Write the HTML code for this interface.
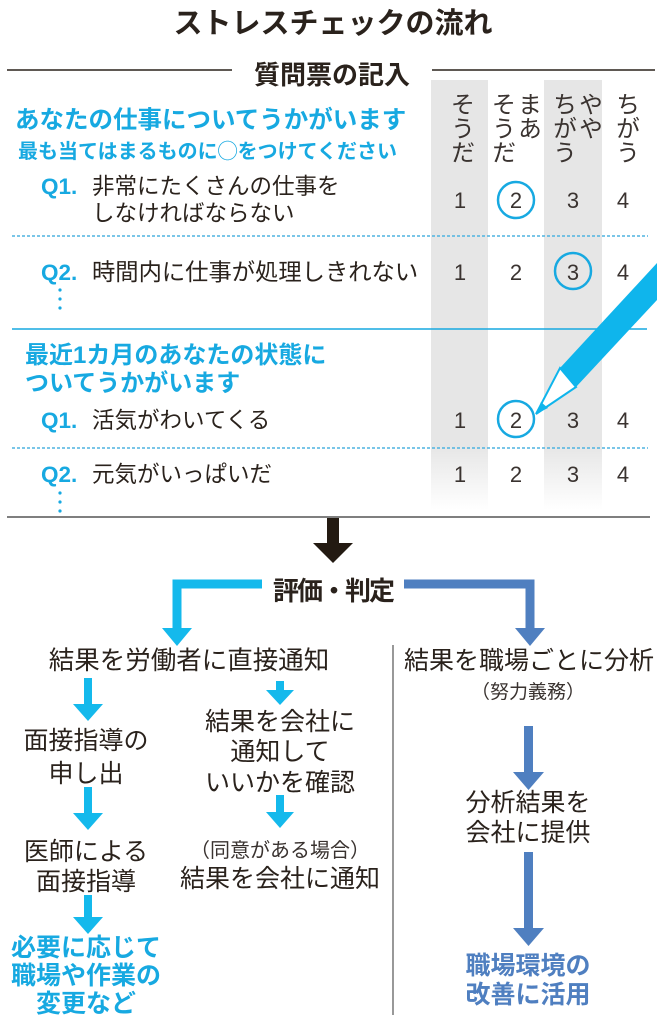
<!DOCTYPE html>
<html><head><meta charset="utf-8"><style>
html,body{margin:0;padding:0;background:#fff;}
svg{display:block;font-family:"Liberation Sans","Noto Sans CJK JP",sans-serif;}
.k{fill:#2a221c}
.c{fill:#17a9e1}
.b{fill:#4f7fc0}
</style></head><body>
<svg width="665" height="1024" viewBox="0 0 665 1024">
<defs>
<linearGradient id="g" x1="0" y1="0" x2="0" y2="1">
<stop offset="0.85" stop-color="#e6e6e6"/><stop offset="1" stop-color="#e6e6e6" stop-opacity="0"/>
</linearGradient>
</defs>
<text x="333" y="33" text-anchor="middle" font-size="29" font-weight="bold" class="k">ストレスチェックの流れ</text>
<line x1="7" y1="70" x2="232" y2="70" stroke="#2a221c" stroke-width="1.5"/>
<line x1="432" y1="70" x2="655" y2="70" stroke="#2a221c" stroke-width="1.5"/>
<text x="332" y="84" text-anchor="middle" font-size="26" font-weight="bold" class="k">質問票の記入</text>
<rect x="431" y="80" width="57" height="430" fill="url(#g)"/>
<rect x="544" y="80" width="58" height="430" fill="url(#g)"/>
<g font-size="24" fill="#3a3330">
<text x="460" y="92" style="writing-mode:vertical-rl">そうだ</text>
<text x="527" y="92" style="writing-mode:vertical-rl">まあ</text>
<text x="501" y="92" style="writing-mode:vertical-rl">そうだ</text>
<text x="588" y="92" style="writing-mode:vertical-rl">やや</text>
<text x="562" y="92" style="writing-mode:vertical-rl">ちがう</text>
<text x="625" y="92" style="writing-mode:vertical-rl">ちがう</text>
</g>
<text x="15" y="128" font-size="24.5" font-weight="bold" class="c">あなたの仕事についてうかがいます</text>
<text x="18" y="158" font-size="20" font-weight="bold" class="c">最も当てはまるものに◯をつけてください</text>
<g font-size="22.5">
<text x="41" y="194" font-weight="bold" class="c">Q1.</text>
<text x="92" y="194" class="k">非常にたくさんの仕事を</text>
<text x="92" y="221" class="k">しなければならない</text>
<text x="41" y="280" font-weight="bold" class="c">Q2.</text>
<text x="92" y="280" font-size="23.3" class="k">時間内に仕事が処理しきれない</text>
<text x="41" y="428" font-weight="bold" class="c">Q1.</text>
<text x="92" y="428" class="k">活気がわいてくる</text>
<text x="41" y="482" font-weight="bold" class="c">Q2.</text>
<text x="92" y="482" class="k">元気がいっぱいだ</text>
</g>
<g fill="#17a9e1"><circle cx="60" cy="290" r="1.6"/><circle cx="60" cy="299" r="1.6"/><circle cx="60" cy="308" r="1.6"/>
<circle cx="60" cy="493" r="1.6"/><circle cx="60" cy="502" r="1.6"/><circle cx="60" cy="511" r="1.6"/></g>
<line x1="12" y1="236" x2="648" y2="236" stroke="#4fb3e0" stroke-width="1.5" stroke-dasharray="3,2"/>
<line x1="12" y1="448" x2="648" y2="448" stroke="#4fb3e0" stroke-width="1.5" stroke-dasharray="3,2"/>
<line x1="12" y1="329" x2="647" y2="329" stroke="#17a9e1" stroke-width="1.5"/>
<text x="25" y="363" font-size="24" font-weight="bold" class="c">最近1カ月のあなたの状態に</text>
<text x="25" y="391" font-size="24" font-weight="bold" class="c">ついてうかがいます</text>
<g font-size="22" fill="#3a3330" text-anchor="middle">
<text x="460" y="208">1</text><text x="516" y="208">2</text><text x="573" y="208">3</text><text x="623" y="208">4</text>
<text x="460" y="280">1</text><text x="516" y="280">2</text><text x="573" y="280">3</text><text x="623" y="280">4</text>
<text x="460" y="428">1</text><text x="516" y="428">2</text><text x="573" y="428">3</text><text x="623" y="428">4</text>
<text x="460" y="482">1</text><text x="516" y="482">2</text><text x="573" y="482">3</text><text x="623" y="482">4</text>
</g>
<g fill="none" stroke="#17a9e1" stroke-width="2.5">
<circle cx="516" cy="200" r="18"/><circle cx="573" cy="271" r="18"/><circle cx="516" cy="419" r="18"/>
</g>
<polygon points="657,263 657,300 576,387 560,368" fill="#0fb5ec"/>
<polygon points="560,368 576,387 536,414" fill="#fff" stroke="#0fb5ec" stroke-width="2"/>
<polygon points="536,414 541,402 548,408" fill="#0fb5ec"/>
<line x1="7" y1="517" x2="650" y2="517" stroke="#555" stroke-width="1.5"/>
<polygon points="327,518 339,518 339,543 353,543 333,563 313,543 327,543" fill="#231a12"/>
<text x="333" y="600" text-anchor="middle" font-size="26" font-weight="bold" letter-spacing="-2" class="k">評価・判定</text>
<polyline points="262,584 177,584 177,632" fill="none" stroke="#14b9ec" stroke-width="9"/>
<polygon points="162,628 192,628 177,646" fill="#14b9ec"/>
<polyline points="404,584 530,584 530,632" fill="none" stroke="#4f7fc0" stroke-width="9"/>
<polygon points="515,628 545,628 530,646" fill="#4f7fc0"/>
<line x1="393" y1="645" x2="393" y2="1015" stroke="#555" stroke-width="1.2"/>
<text x="189" y="669" text-anchor="middle" font-size="25.5" class="k">結果を労働者に直接通知</text>
<text x="529" y="669" text-anchor="middle" font-size="25" class="k">結果を職場ごとに分析</text>
<text x="528" y="698" text-anchor="middle" font-size="19" fill="#3a3330">（努力義務）</text>
<g fill="#14b9ec">
<rect x="84" y="678" width="8" height="30"/><polygon points="73,704 103,704 88,721"/>
<rect x="84" y="787" width="8" height="30"/><polygon points="73,813 103,813 88,830"/>
<rect x="84" y="895" width="8" height="26"/><polygon points="73,917 103,917 88,934"/>
<rect x="276" y="681" width="8" height="12"/><polygon points="266,690 294,690 280,705"/>
<rect x="276" y="795" width="8" height="20"/><polygon points="266,812 294,812 280,828"/>
</g>
<g fill="#4f7fc0">
<rect x="524" y="726" width="9" height="50"/><polygon points="513,772 544,772 528.5,790"/>
<rect x="524" y="852" width="9" height="80"/><polygon points="513,928 544,928 528.5,946"/>
</g>
<g font-size="25" class="k" text-anchor="middle">
<text x="86" y="749">面接指導の</text>
<text x="86" y="782">申し出</text>
<text x="86" y="860">医師による</text>
<text x="86" y="890">面接指導</text>
<text x="280" y="730">結果を会社に</text>
<text x="280" y="760">通知して</text>
<text x="280" y="791">いいかを確認</text>
<text x="280" y="887">結果を会社に通知</text>
<text x="528" y="811">分析結果を</text>
<text x="528" y="841">会社に提供</text>
</g>
<text x="280" y="857" text-anchor="middle" font-size="20" fill="#3a3330">（同意がある場合）</text>
<g font-size="25" font-weight="bold" text-anchor="middle">
<text x="86" y="956" class="c">必要に応じて</text>
<text x="86" y="984" class="c">職場や作業の</text>
<text x="86" y="1012" class="c">変更など</text>
<text x="528" y="974" class="b">職場環境の</text>
<text x="528" y="1003" class="b">改善に活用</text>
</g>
</svg>
</body></html>
